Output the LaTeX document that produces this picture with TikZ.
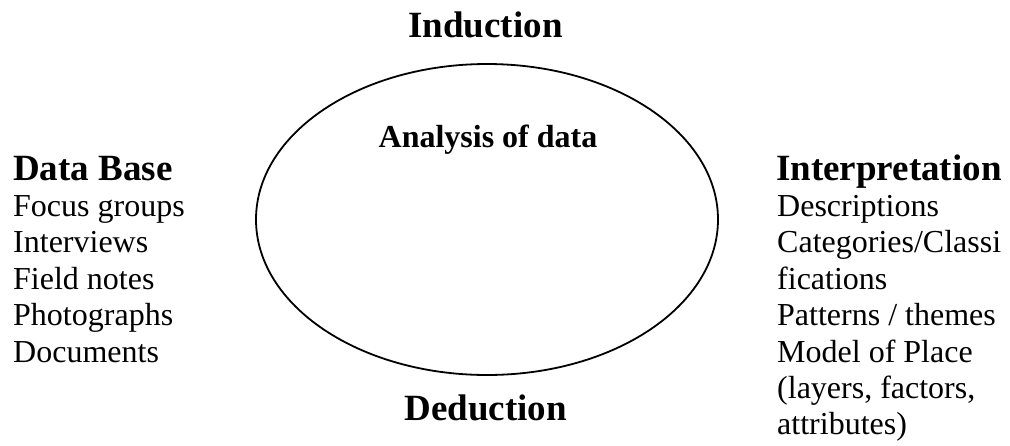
\documentclass[tikz,border=0pt]{standalone}
\usepackage{fontspec}
\setmainfont{Liberation Serif}
\begin{document}
\begin{tikzpicture}[x=1pt,y=-1pt,
  head/.style={inner sep=0pt,anchor=base west,font=\fontsize{37}{40}\selectfont\bfseries},
  headc/.style={inner sep=0pt,anchor=base,font=\fontsize{37}{40}\selectfont\bfseries},
  item/.style={inner sep=0pt,anchor=base west,font=\fontsize{32}{36}\selectfont},
  sub/.style={inner sep=0pt,anchor=base,font=\fontsize{32}{36}\selectfont\bfseries}]
\useasboundingbox (0,0) rectangle (1010,445);

% central cycle of analysis
\draw[line width=1.8pt] (487,219.5) ellipse [x radius=231, y radius=155.5];
\node[sub] (analysis) at (488,147) {Analysis of data};

% top and bottom labels
\node[headc] (induction) at (485.5,37) {Induction};
\node[headc] (deduction) at (485.5,420) {Deduction};

% data sources
\node[head] (database) at (13,180) {Data Base};
\foreach \t [count=\i] in {Focus groups,Interviews,Field notes,Photographs,Documents}
  \node[item] (db\i) at (13,180+36.4*\i) {\t};

% interpretation outcomes
\node[head] (interp) at (776,180) {Interpretation};
\foreach \t [count=\i] in {Descriptions,Categories/Classi,fications,Patterns / themes,Model of Place,{(layers, factors,},attributes)}
  \node[item] (ip\i) at (777,180+36.4*\i) {\t};
\end{tikzpicture}
\end{document}
